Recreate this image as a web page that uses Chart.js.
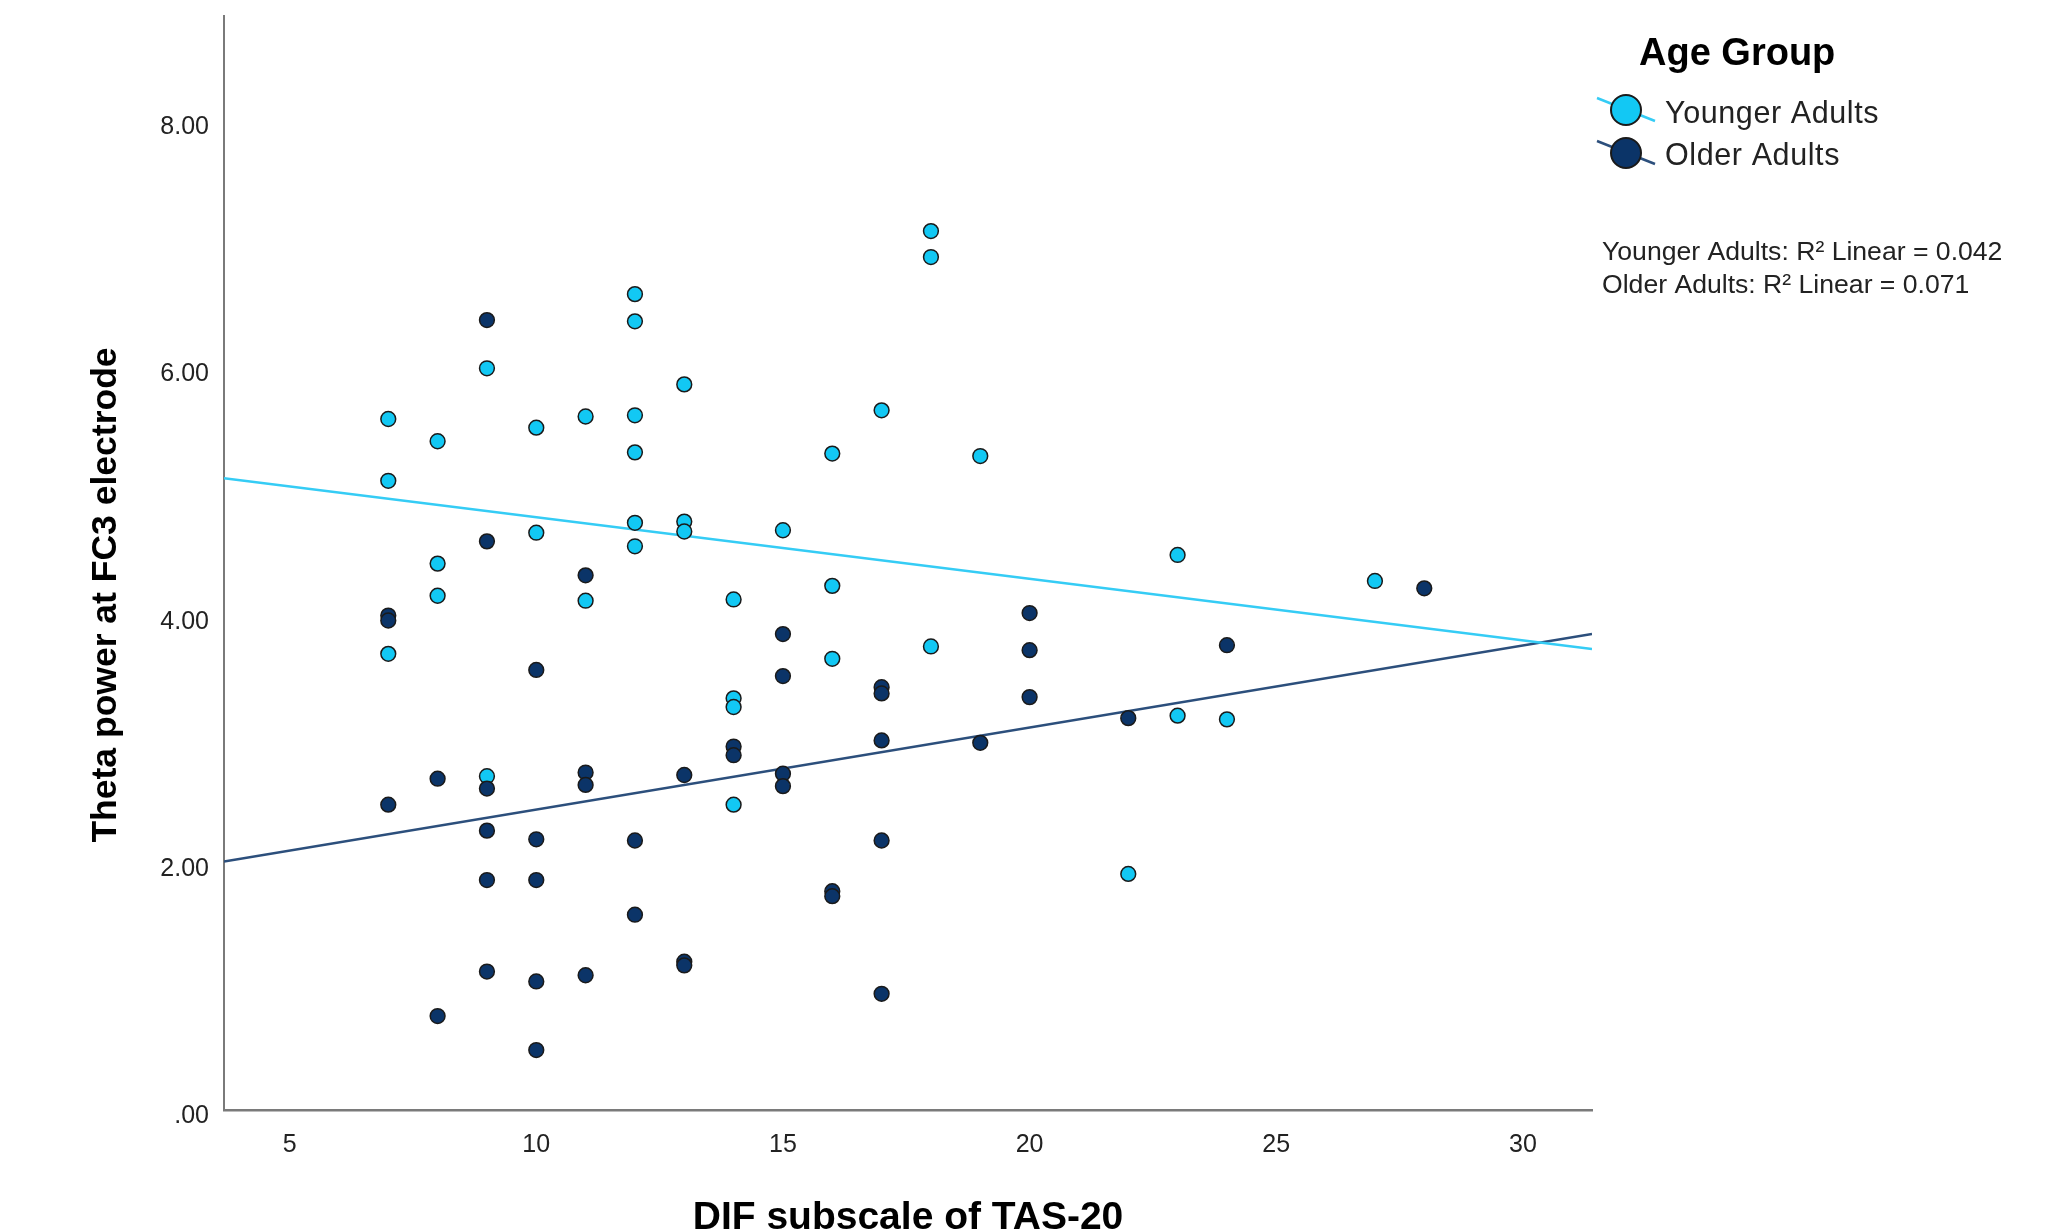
<!DOCTYPE html>
<html>
<head>
<meta charset="utf-8">
<title>Theta power at FC3 by DIF subscale</title>
<script src="https://cdn.jsdelivr.net/npm/chart.js@4.4.0/dist/chart.umd.min.js"></script>
<style>
  html, body { margin: 0; padding: 0; background: #fff; }
  #chartWrap { width: 2064px; height: 1232px; }
</style>
</head>
<body>
<div id="chartWrap"><canvas id="scatterChart" width="2064" height="1232"></canvas></div>
<script>
'use strict';
// ---------------------- Data -----------------
const groupNames = ['Younger Adults', 'Older Adults'];
const rSquared = ['0.042', '0.071'];

const youngerX = [7, 7, 7, 8, 8, 8, 9, 9, 10, 10, 11, 11, 12, 12, 12, 12, 12, 12, 13, 13, 13,
  14, 14, 14, 14, 15, 16, 16, 16, 17, 18, 18, 18, 19, 22, 23, 23, 24, 27];
const youngerY = [5.64, 5.14, 3.74, 5.46, 4.47, 4.21, 6.05, 2.75, 5.57, 4.72, 5.66, 4.17,
  6.65, 6.43, 5.67, 5.37, 4.80, 4.61, 5.92, 4.81, 4.73, 4.18, 3.38, 3.31, 2.52, 4.74,
  5.36, 4.29, 3.70, 5.71, 7.16, 6.95, 3.80, 5.34, 1.96, 4.54, 3.24, 3.21, 4.33];

const olderX = [7, 7, 7, 8, 8, 9, 9, 9, 9, 9, 9, 10, 10, 10, 10, 10, 11, 11, 11, 11, 12, 12,
  13, 13, 13, 14, 14, 15, 15, 15, 15, 16, 16, 17, 17, 17, 17, 17, 19, 20, 20, 20, 22, 24, 28];
const olderY = [4.05, 4.01, 2.52, 2.73, 0.81, 6.44, 4.65, 2.65, 2.31, 1.91, 1.17,
  3.61, 2.24, 1.91, 1.09, 0.535, 4.375, 2.78, 2.68, 1.14, 2.23, 1.63,
  2.76, 1.25, 1.22, 2.99, 2.92, 3.90, 3.56, 2.77, 2.67, 1.82, 1.78,
  3.47, 3.42, 3.04, 2.23, 0.99, 3.02, 4.07, 3.77, 3.39, 3.22, 3.81, 4.27];

const fitX = [3.67, 31.4];
const youngerFitY = [5.16, 3.78];
const olderFitY = [2.06, 3.90];

const xTicks = [5, 10, 15, 20, 25, 30];
const yTicks = [0, 2, 4, 6, 8];
const xTitle = 'DIF subscale of TAS-20';
const yTitle = 'Theta power at FC3 electrode';
const legendTitle = 'Age Group';

// ---------------------- Styles -----------------
const youngerFill = '#12c8f4';
const olderFill = '#0b3468';
const youngerLine = '#35ccf5';
const olderLine = '#2c4f7c';
const markerEdge = '#1a1a1a';
const fontFamily = '"Liberation Sans", Arial, sans-serif';

// -------------------- Helpers -----------------
function toPoints(xs, ys) {
  return xs.map((x, i) => ({ x: x, y: ys[i] }));
}

function drawMarker(ctx, cx, cy, fill, lineColor) {
  ctx.strokeStyle = lineColor;
  ctx.lineWidth = 2.5;
  ctx.beginPath();
  ctx.moveTo(cx - 29, cy - 12);
  ctx.lineTo(cx + 29, cy + 11);
  ctx.stroke();
  ctx.beginPath();
  ctx.arc(cx, cy, 15, 0, Math.PI * 2);
  ctx.fillStyle = fill;
  ctx.fill();
  ctx.lineWidth = 2;
  ctx.strokeStyle = markerEdge;
  ctx.stroke();
}

// y title, legend and R² notes
const sidePlugin = {
  id: 'sidePlugin',
  afterDraw(chart) {
    const ctx = chart.ctx;
    ctx.save();
    ctx.fillStyle = '#000';
    ctx.textAlign = 'center';
    ctx.textBaseline = 'middle';
    ctx.translate(106, 595);
    ctx.rotate(-Math.PI / 2);
    ctx.font = 'bold 35.5px ' + fontFamily;
    ctx.fillText(yTitle, 0, 0);
    ctx.restore();

    ctx.save();
    ctx.textAlign = 'left';
    ctx.textBaseline = 'alphabetic';
    ctx.fillStyle = '#000';
    ctx.font = 'bold 38px ' + fontFamily;
    ctx.fillText(legendTitle, 1639, 65);

    drawMarker(ctx, 1626, 110, youngerFill, youngerLine);
    drawMarker(ctx, 1626, 153, olderFill, olderLine);

    ctx.fillStyle = '#222';
    ctx.font = '30.5px ' + fontFamily;
    if ('letterSpacing' in ctx) ctx.letterSpacing = '0.6px';
    ctx.fillText(groupNames[0], 1665, 123);
    ctx.fillText(groupNames[1], 1665, 165);
    if ('letterSpacing' in ctx) ctx.letterSpacing = '0px';

    ctx.font = '26.6px ' + fontFamily;
    ctx.fillText(groupNames[0] + ': R\u00b2 Linear = ' + rSquared[0], 1602, 260);
    ctx.fillText(groupNames[1] + ': R\u00b2 Linear = ' + rSquared[1], 1602, 293);
    ctx.restore();
  }
};

// -------------------- Chart -----------------
const context = document.getElementById('scatterChart').getContext('2d');
const scatterChart = new Chart(context, {
  type: 'scatter',
  data: {
    datasets: [
      {
        label: groupNames[1],
        data: toPoints(olderX, olderY),
        backgroundColor: olderFill,
        borderColor: markerEdge,
        borderWidth: 1.5,
        pointRadius: 7.4,
        order: 1
      },
      {
        label: groupNames[0],
        data: toPoints(youngerX, youngerY),
        backgroundColor: youngerFill,
        borderColor: markerEdge,
        borderWidth: 1.5,
        pointRadius: 7.4,
        order: 2
      },
      {
        label: groupNames[0] + ' fit',
        type: 'line',
        data: toPoints(fitX, youngerFitY),
        borderColor: youngerLine,
        borderWidth: 2.5,
        pointRadius: 0,
        fill: false,
        order: 3
      },
      {
        label: groupNames[1] + ' fit',
        type: 'line',
        data: toPoints(fitX, olderFitY),
        borderColor: olderLine,
        borderWidth: 2.5,
        pointRadius: 0,
        fill: false,
        order: 4
      }
    ]
  },
  options: {
    responsive: false,
    animation: false,
    devicePixelRatio: 1,
    layout: { padding: { left: 0, top: 16, right: 472, bottom: 0 } },
    plugins: {
      legend: { display: false },
      tooltip: { enabled: false }
    },
    scales: {
      x: {
        type: 'linear',
        min: 3.67,
        max: 31.4,
        afterBuildTicks: (scale) => { scale.ticks = xTicks.map(v => ({ value: v })); },
        afterFit: (scale) => {
          scale.height = 122;
          scale.paddingLeft = 0;
          scale.paddingRight = 0;
        },
        grid: { display: false, drawTicks: false },
        border: { display: true, color: '#7a7a7a', width: 2.5 },
        ticks: {
          autoSkip: false,
          maxRotation: 0,
          padding: 20,
          color: '#222',
          font: { family: fontFamily, size: 25 },
          callback: (v) => String(v)
        },
        title: {
          display: true,
          text: xTitle,
          color: '#000',
          padding: { top: 0, bottom: 0 },
          font: { family: fontFamily, size: 39, weight: 'bold', lineHeight: 0.72 }
        }
      },
      y: {
        type: 'linear',
        min: 0.05,
        max: 8.9,
        afterBuildTicks: (scale) => { scale.ticks = yTicks.map(v => ({ value: v })); },
        afterFit: (scale) => {
          scale.width = 224;
          scale.paddingTop = 0;
          scale.paddingBottom = 0;
        },
        grid: { display: false, drawTicks: false },
        border: { display: true, color: '#7a7a7a', width: 2 },
        ticks: {
          autoSkip: false,
          padding: 15,
          color: '#222',
          font: { family: fontFamily, size: 25 },
          callback: (v) => (v === 0 ? '.00' : v.toFixed(2))
        }
      }
    }
  },
  plugins: [sidePlugin]
});
</script>
</body>
</html>
